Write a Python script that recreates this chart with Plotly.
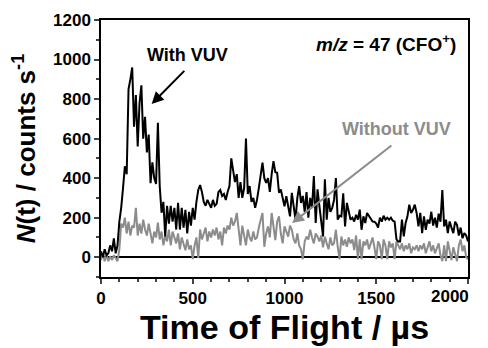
import plotly.graph_objects as go

time_us = list(range(0, 2001, 10))

with_vuv = [
    30, 0, 40, 10, 20, 60, 30, 95, 20, 60,            # 0-90
    180, 250, 350, 460, 420, 850, 900, 960, 660, 820,  # 100-190
    560, 780, 870, 600, 710, 530, 620, 375, 480, 400,  # 200-290
    370, 680, 360, 225, 280, 105, 260, 170, 260, 180,  # 300-390
    250, 140, 275, 140, 250, 150, 240, 120, 230, 160,  # 400-490
    250, 190, 280, 340, 365, 330, 280, 260, 290, 270,  # 500-590
    250, 290, 260, 270, 330, 340, 310, 320, 290, 330,  # 600-690
    360, 500, 430, 380, 420, 300, 380, 300, 350, 600,  # 700-790
    320, 360, 280, 300, 250, 290, 350, 420, 478, 400,  # 800-890
    376, 400, 330, 420, 486, 430, 427, 326, 343, 300,  # 900-990
    258, 309, 250, 207, 326, 260, 190, 300, 360, 275,  # 1000-1090
    310, 230, 330, 200, 300, 250, 411, 173, 343, 260,  # 1100-1190
    180, 105, 394, 190, 300, 230, 250, 290, 401, 190,  # 1200-1290
    210, 207, 323, 156, 275, 230, 190, 200, 181, 215,  # 1300-1390
    190, 241, 139, 207, 173, 224, 210, 190, 181, 180,  # 1400-1490
    170, 150, 200, 180, 210, 190, 200, 190, 200, 185,  # 1500-1590
    180, 90, 80, 80, 190, 105, 173, 207, 266, 224,     # 1600-1690
    240, 266, 224, 156, 224, 122, 207, 139, 190, 170,  # 1700-1790
    230, 160, 200, 150, 220, 180, 340, 156, 190, 122,  # 1800-1890
    181, 150, 122, 180, 164, 110, 150, 96, 122, 110,   # 1900-1990
    80,                                                # 2000
]

without_vuv = [
    -15, 20, -20, 10, -20, 5, -15, 10, -5, -20,        # 0-90
    40, 170, 150, 200, 120, 180, 110, 160, 150, 250,   # 100-190
    110, 170, 120, 190, 140, 110, 170, 120, 70, 130,   # 200-290
    100, 175, 90, 130, 60, 110, 80, 140, 60, 130,      # 300-390
    100, 70, 120, 40, 100, 60, 35, 90, 40, 60,         # 400-490
    -10, 60, 100, -5, 140, 90, 120, 150, 80, 130,      # 500-590
    100, 140, 110, 150, 90, 130, 60, 150, 120, 160,    # 600-690
    140, 200, 160, 180, 224, 140, 60, 160, 100, 60,    # 700-790
    140, 100, 80, 130, 90, 100, 150, 190, 224, 53,     # 800-890
    120, 156, 100, 224, 160, 87, 180, 207, 120, 70,    # 900-990
    156, 130, 104, 160, 139, 90, 70, 120, 60, 40,      # 1000-1090
    -10, 80, 104, 90, 139, 100, 70, 120, 104, 80,      # 1100-1190
    110, 50, 104, 70, 40, 100, 60, 71, 139, 53,        # 1200-1290
    -10, 105, 60, 90, 53, 100, 70, 90, 36, 110,        # 1300-1390
    -10, 90, -10, 80, 60, 90, 40, 70, 100, 50,         # 1400-1490
    -10, 80, 60, -10, 90, 60, -10, 80, 50, 70,         # 1500-1590
    -10, 80, 60, 40, 70, 30, 60, 40, 70, 20,           # 1600-1690
    50, 40, 60, 30, 60, 40, 70, 20, 50, 80,            # 1700-1790
    30, 60, 20, 50, 70, 10, -20, 60, -20, 80,          # 1800-1890
    40, -15, 50, 20, -20, 60, 90, 30, 60, 0,           # 1900-1990
    -10,                                               # 2000
]

x_ticks = [0, 500, 1000, 1500, 2000]
x_labels = ["0", "500", "1000", "1500", ""]   # last label drawn right-aligned below
y_ticks = [0, 200, 400, 600, 800, 1000, 1200]

FONT = "Liberation Sans, Arial, sans-serif"
GRAY = "#8c8c8c"

fig = go.Figure()
fig.add_trace(go.Scatter(x=time_us, y=without_vuv, mode="lines",
                         line=dict(color=GRAY, width=2), showlegend=False))
fig.add_trace(go.Scatter(x=time_us, y=with_vuv, mode="lines",
                         line=dict(color="black", width=2), showlegend=False))

fig.update_layout(
    width=480, height=340,
    margin=dict(l=93, r=20, t=12, b=71),
    paper_bgcolor="white", plot_bgcolor="white",
    font=dict(family=FONT, color="black"),
    xaxis=dict(
        range=[0, 2000], tickvals=x_ticks,
        ticktext=[f"<b>{v}</b>" if v else "" for v in x_labels],
        tickfont=dict(size=17), ticks="outside", ticklen=5, tickwidth=1.5,
        minor=dict(dtick=100, ticks="outside", ticklen=3, tickwidth=1.5),
        showline=True, linecolor="black", linewidth=1.5, mirror=True,
        showgrid=False, zeroline=False, automargin=False,
        title=dict(text="<b>Time of Flight / µs</b>", font=dict(size=34), standoff=3),
    ),
    yaxis=dict(
        range=[-100, 1200], tickvals=y_ticks,
        ticktext=[f"<b>{v}</b>" for v in y_ticks],
        tickfont=dict(size=17), ticks="outside", ticklen=5, tickwidth=1.5,
        minor=dict(dtick=100, ticks="outside", ticklen=3, tickwidth=1.5),
        showline=True, linecolor="black", linewidth=1.5, mirror=True,
        showgrid=False, zeroline=True, zerolinecolor="black", zerolinewidth=1.5,
        automargin=False,
        title=dict(text="<b><i>N</i>(t) / counts s<sup>-1</sup></b>", font=dict(size=26), standoff=15),
    ),
)

fig.add_annotation(x=2000, y=-100, xref="x", yref="y", showarrow=False,
                   xanchor="right", yanchor="top", xshift=3, yshift=-8,
                   text=f"<b>{x_ticks[-1]}</b>", font=dict(size=17, color="black"))
fig.add_annotation(x=276, y=775, xref="x", yref="y", ax=462, ay=950, axref="x", ayref="y",
                   showarrow=True, arrowhead=2, arrowsize=1.2, arrowwidth=2, arrowcolor="black",
                   text="")
fig.add_annotation(x=474, y=1025, xref="x", yref="y", showarrow=False,
                   text="<b>With VUV</b>", font=dict(size=18, color="black"))
fig.add_annotation(x=1041, y=173, xref="x", yref="y", ax=1591, ay=571, axref="x", ayref="y",
                   showarrow=True, arrowhead=2, arrowsize=1.2, arrowwidth=2, arrowcolor=GRAY,
                   text="")
fig.add_annotation(x=1613, y=648, xref="x", yref="y", showarrow=False,
                   text="<b>Without VUV</b>", font=dict(size=18, color=GRAY))
fig.add_annotation(x=1946, y=1086, xref="x", yref="y", showarrow=False, xanchor="right",
                   text="<b><i>m/z</i> = 47 (CFO<sup>+</sup>)</b>", font=dict(size=19, color="black"))

fig.write_html("out.html")
